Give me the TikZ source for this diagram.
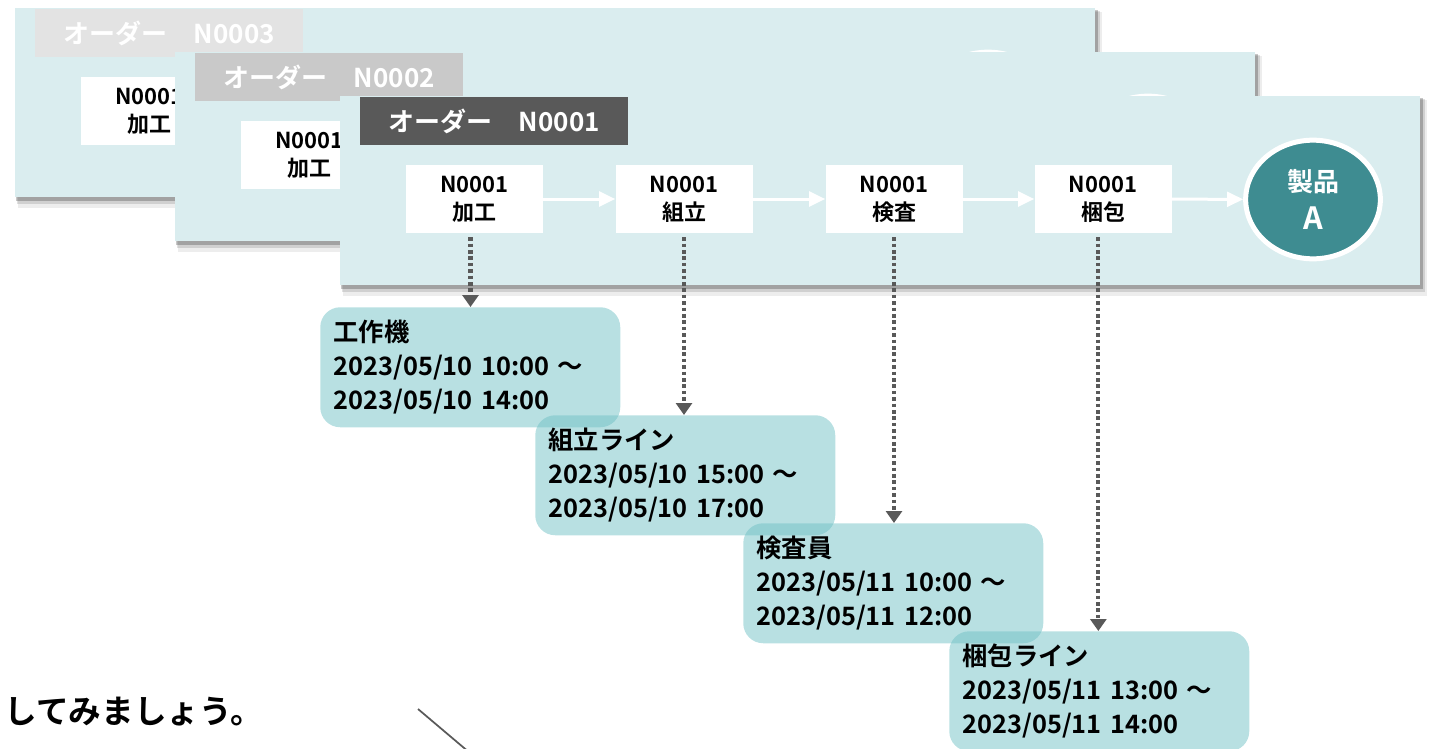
\documentclass[tikz,border=0pt]{standalone}
\usepackage{fontspec}
\setmainfont{Noto Sans CJK JP}[BoldFont={Noto Sans CJK JP Bold}]
\usetikzlibrary{shapes.geometric,arrows.meta,calc}
\definecolor{panelbg}{HTML}{DAEDEF}
\definecolor{prodc}{HTML}{3E8C91}
\definecolor{linkc}{HTML}{595959}
\definecolor{actc}{HTML}{71C1C5}
\definecolor{hdrA}{HTML}{595959}
\definecolor{hdrB}{HTML}{C9C9C9}
\definecolor{hdrC}{HTML}{E3E3E3}
\tikzset{
  stepbox/.style={fill=white, minimum width=102.75pt, minimum height=51pt, inner sep=0pt,
    align=center, font=\fontsize{16.5}{21}\selectfont\bfseries},
  hdr/.style={fill=#1, minimum width=201pt, minimum height=36pt, inner sep=0pt, text=white,
    anchor=north west, font=\fontsize{19.5}{24}\selectfont\bfseries},
  prod/.style={ellipse, fill=prodc, draw=white, line width=3.75pt, minimum width=101pt,
    minimum height=89pt, inner sep=0pt, text=white, align=center,
    font=\fontsize{19.5}{28}\selectfont\bfseries},
  flow/.style={draw=white, line width=2.25pt, -{Triangle[length=12pt,width=11pt]}},
  link/.style={draw=linkc, line width=3.2pt, dash pattern=on 2.6pt off 2.2pt, shorten <=3pt,
    -{Triangle[length=9pt,width=12pt]}},
  act/.style={fill=actc, fill opacity=0.5, text opacity=1, rounded corners=15pt,
    minimum width=225pt, minimum height=90pt, text width=205pt, inner xsep=10pt, inner ysep=0pt,
    align=left, anchor=north west, font=\fontsize{19}{25.5}\selectfont\bfseries},
  note/.style={font=\fontsize{24.5}{28}\selectfont\bfseries, inner sep=0pt, anchor=base east}
}
\newcommand\orderpanel[5]{%
  \begin{scope}[shift={(#1,#2)}]
    \fill[black, opacity=.07] (343,100) rectangle (1427,296);
    \fill[black, opacity=.12] (342,99) rectangle (1425,292);
    \fill[black, opacity=.22] (341,98) rectangle (1423,289);
    \fill[panelbg] (340,96) rectangle (1420,285);
    \node[hdr=#3] (#5h) at (360,97) {オーダー　#4};
    \node[stepbox] (#5a) at (474.5,199) {N0001\\加工};
    \node[stepbox] (#5b) at (684,199) {N0001\\組立};
    \node[stepbox] (#5c) at (894,199) {N0001\\検査};
    \node[stepbox] (#5d) at (1103,199) {N0001\\梱包};
    \node[prod] (#5p) at (1313,199.5) {製品\\{\fontsize{23}{28}\selectfont A}};
    \draw[flow] (#5a) -- (#5b);
    \draw[flow] (#5b) -- (#5c);
    \draw[flow] (#5c) -- (#5d);
    \draw[flow] (#5d) -- (#5p);
  \end{scope}}
\begin{document}
\begin{tikzpicture}[x=0.75pt, y=-0.75pt]
  \useasboundingbox (0,0) rectangle (1436,749);
  \orderpanel{-325}{-88}{hdrC}{N0003}{q}
  \orderpanel{-165}{-44}{hdrB}{N0002}{r}
  \orderpanel{0}{0}{hdrA}{N0001}{p}
  % activity boxes
  \node[act] (a1) at (320,307) {工作機\\2023/05/10 10:00 ～\\2023/05/10 14:00};
  \node[act] (a2) at (535,415) {組立ライン\\2023/05/10 15:00 ～\\2023/05/10 17:00};
  \node[act] (a3) at (743,523) {検査員\\2023/05/11 10:00 ～\\2023/05/11 12:00};
  \node[act] (a4) at (949,631) {梱包ライン\\2023/05/11 13:00 ～\\2023/05/11 14:00};
  % dotted links
  \draw[link] ([xshift=-3pt]pa.south) -- ([xshift=-3pt]pa.south |- a1.north);
  \draw[link] (pb.south) -- (pb.south |- a2.north);
  \draw[link] (pc.south) -- (pc.south |- a3.north);
  \draw[link] ([xshift=-3.5pt]pd.south) -- ([xshift=-3.5pt]pd.south |- a4.north);
  % bottom text and stray line
  \node[note] (t) at (263,723) {してみましょう。};
  \coordinate (l1) at (418,709);
  \coordinate (l2) at (470,753);
  \draw[linkc, line width=1.3pt] (l1) -- (l2);
\end{tikzpicture}
\end{document}
